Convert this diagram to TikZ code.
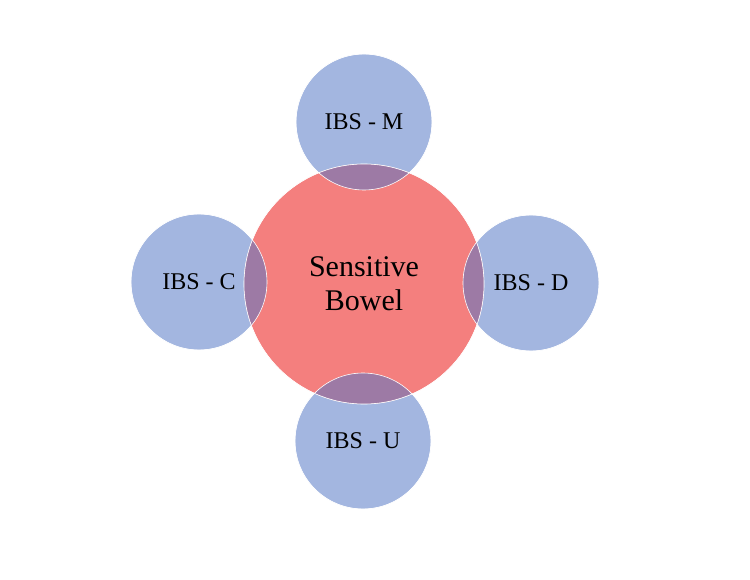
\documentclass[tikz,border=0pt]{standalone}
\usepackage{fontspec}
\setmainfont{Liberation Serif}
\definecolor{redc}{HTML}{F47F7E}
\definecolor{bluec}{HTML}{A3B6E0}
\definecolor{mixc}{HTML}{9D7AA5}
\begin{document}
\begin{tikzpicture}[x=1pt, y=-1pt,
    small/.style={circle, minimum size=136pt, inner sep=0pt, fill=bluec, draw=white, font=\fontsize{24}{26}\selectfont},
    big/.style={circle, minimum size=240pt, inner sep=0pt, fill=redc, draw=white, align=center, font=\fontsize{30}{32}\selectfont}]
  \useasboundingbox (0,0) rectangle (750,580);
  % outer circles
  \node[small] (m) at (364,122) {};
  \node[small] (c) at (199,282) {};
  \node[small] (d) at (531,283) {};
  \node[small] (u) at (363,441) {};
  % centre
  \node[big] (sb) at (364,284) {};
  % overlaps
  \foreach \p in {(364,122),(199,282),(531,283),(363,441)} {
    \begin{scope}
      \clip (364,284) circle (120);
      \fill[mixc] \p circle (68);
    \end{scope}
    \draw[white, line width=0.6pt] \p circle (68);
  }
  \draw[white, line width=0.6pt] (364,284) circle (120);
  % labels
  \node[font=\fontsize{30}{34}\selectfont, align=center] (sbt) at (sb) {Sensitive\\Bowel};
  \node[font=\fontsize{24}{26}\selectfont] (mt) at (m) {IBS - M};
  \node[font=\fontsize{24}{26}\selectfont] (ct) at (c) {IBS - C};
  \node[font=\fontsize{24}{26}\selectfont] (dt) at (d) {IBS - D};
  \node[font=\fontsize{24}{26}\selectfont] (ut) at (u) {IBS - U};
\end{tikzpicture}
\end{document}
